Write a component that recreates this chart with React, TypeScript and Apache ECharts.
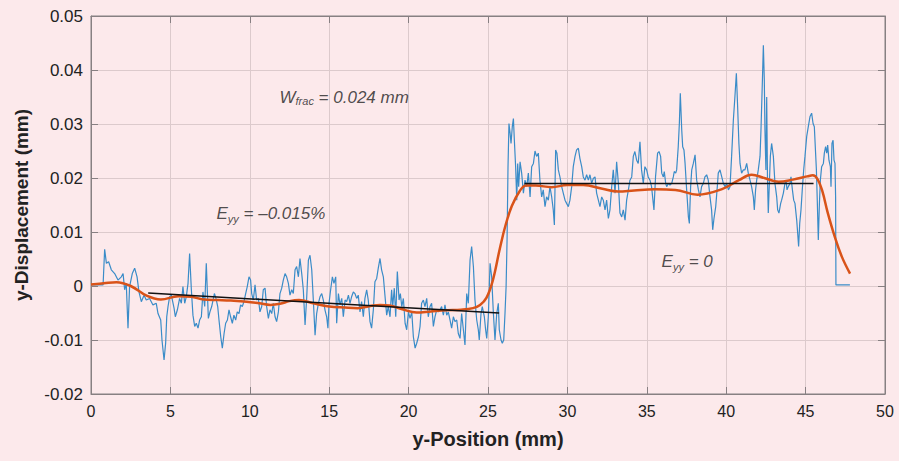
import { useEffect, useRef } from "react";
import * as echarts from "echarts";

// Raw DIC displacement profile along the specimen (y-position mm, displacement mm)
const measured: [number, number][] = [
  [0, 0.0002], [0.76, 0.0002], [0.86, 0.0068], [0.97, 0.0042], [1.11, 0.0045], [1.28, 0.003],
  [1.49, 0.0023], [1.7, 0.0011], [1.91, 0.0017], [2.02, 0.0023], [2.12, -0.0007], [2.22, 0.0005],
  [2.33, -0.0078], [2.43, -0.0001], [2.6, 0.0023], [2.75, 0.0033], [2.9, 0.0017], [3.02, -0.0011],
  [3.17, -0.0029], [3.34, -0.0017], [3.48, -0.0026], [3.69, -0.0023], [3.9, -0.0035], [4.11, -0.0032],
  [4.22, -0.0051], [4.39, -0.0063], [4.47, -0.01], [4.6, -0.0137], [4.7, -0.0106], [4.77, -0.0057],
  [4.85, -0.0038], [4.95, -0.002], [5.06, -0.0017], [5.23, -0.0041], [5.31, -0.0057], [5.44, -0.0044],
  [5.58, -0.0023], [5.69, -0.0032], [5.79, -0.0001], [5.9, -0.0032], [6.0, -0.002], [6.11, 0.0005],
  [6.21, 0.006], [6.32, -0.0007], [6.42, -0.0054], [6.53, -0.0075], [6.63, -0.0069], [6.74, -0.0078],
  [6.84, -0.0063], [6.95, -0.0057], [7.05, -0.0011], [7.16, -0.0038], [7.26, 0.0042], [7.39, -0.006],
  [7.49, -0.0048], [7.6, -0.0038], [7.77, -0.0014], [7.87, -0.0023], [7.98, -0.0038], [8.06, -0.0063],
  [8.17, -0.0094], [8.27, -0.0115], [8.38, -0.0088], [8.48, -0.0069], [8.59, -0.0063], [8.69, -0.0044],
  [8.79, -0.0057], [8.9, -0.0069], [9.0, -0.0054], [9.11, -0.0063], [9.21, -0.0048], [9.32, -0.0051],
  [9.42, -0.0035], [9.53, -0.0038], [9.63, -0.0029], [9.74, -0.0014], [9.84, -0.0001], [9.95, 0.0017],
  [10.05, 0.0011], [10.12, -0.0014], [10.22, -0.0026], [10.33, 0.0002], [10.43, -0.0026], [10.54, -0.0023],
  [10.64, -0.0048], [10.75, -0.0038], [10.85, -0.0007], [10.96, -0.0004], [11.06, -0.0038], [11.17, -0.006],
  [11.27, -0.0044], [11.38, -0.0051], [11.48, -0.0032], [11.59, -0.0057], [11.69, -0.0066], [11.8, -0.0048],
  [11.9, -0.0014], [12.01, -0.0004], [12.11, 0.0011], [12.22, 0.0023], [12.32, 0.0017], [12.43, 0.0005],
  [12.53, -0.0017], [12.64, -0.0007], [12.74, -0.0014], [12.85, 0.003], [12.95, 0.0036], [13.06, 0.0017],
  [13.16, 0.0051], [13.27, 0.0023], [13.37, -0.0007], [13.48, -0.0072], [13.58, -0.0023], [13.69, 0.0048],
  [13.79, 0.0057], [13.9, 0.003], [14.0, -0.0026], [14.11, -0.0091], [14.21, -0.0051], [14.32, -0.0032],
  [14.42, -0.002], [14.53, -0.0014], [14.63, -0.0026], [14.74, -0.0045], [14.84, -0.0057], [14.92, -0.0078],
  [14.99, -0.0032], [15.09, -0.0007], [15.2, 0.0017], [15.3, 0.0005], [15.41, 0.0017], [15.47, -0.0069],
  [15.58, -0.0014], [15.68, -0.0035], [15.79, -0.0023], [15.89, -0.0057], [16.0, -0.0026], [16.1, -0.0029],
  [16.21, -0.0017], [16.31, -0.0032], [16.41, -0.002], [16.52, -0.0011], [16.62, -0.0014], [16.73, -0.0023],
  [16.83, -0.0017], [16.94, -0.0048], [17.04, -0.0029], [17.15, -0.0057], [17.25, -0.0023], [17.36, -0.0007],
  [17.46, -0.0026], [17.57, -0.0066], [17.67, -0.0078], [17.78, -0.0044], [17.88, 0.0008], [17.99, 0.0014],
  [18.09, 0.0033], [18.2, 0.0051], [18.3, 0.003], [18.41, 0.0017], [18.51, -0.0017], [18.62, -0.0054],
  [18.72, -0.0038], [18.83, -0.0057], [18.93, -0.0007], [19.0, -0.0038], [19.1, -0.0004], [19.19, -0.0057],
  [19.29, 0.0027], [19.4, -0.0026], [19.48, -0.0014], [19.57, -0.0038], [19.67, -0.0023], [19.78, -0.0069],
  [19.88, -0.0081], [19.99, -0.0048], [20.09, -0.006], [20.2, -0.0048], [20.3, -0.0094], [20.41, -0.0115],
  [20.51, -0.0106], [20.62, -0.0094], [20.72, -0.0075], [20.82, -0.0032], [20.93, -0.0026], [21.03, -0.0038],
  [21.14, -0.0023], [21.24, -0.0057], [21.35, -0.0038], [21.45, -0.0032], [21.56, -0.0075], [21.66, -0.0057],
  [21.77, -0.0044], [21.87, -0.0048], [21.98, -0.0044], [22.08, -0.0038], [22.19, -0.0054], [22.29, -0.0035],
  [22.4, -0.0054], [22.5, -0.0048], [22.61, -0.0063], [22.71, -0.0078], [22.82, -0.0057], [22.92, -0.0066],
  [23.03, -0.0063], [23.13, -0.0088], [23.24, -0.0097], [23.34, -0.0051], [23.45, -0.0081], [23.55, -0.0109],
  [23.66, -0.0014], [23.76, -0.0032], [23.87, 0.0048], [23.97, 0.0073], [24.08, 0.0036], [24.18, -0.0026],
  [24.29, -0.0063], [24.39, -0.0081], [24.45, -0.01], [24.56, -0.0051], [24.64, -0.0038], [24.77, -0.0057],
  [24.85, -0.0081], [24.92, -0.0097], [25.02, -0.0057], [25.13, 0.0042], [25.23, 0.0017], [25.34, -0.0051],
  [25.44, -0.01], [25.55, -0.0051], [25.65, -0.0032], [25.71, -0.0081], [25.82, -0.01], [25.9, -0.0106],
  [25.99, -0.01], [26.07, -0.0051], [26.14, -0.0001], [26.2, 0.0085], [26.26, 0.0221], [26.32, 0.0301],
  [26.39, 0.0283], [26.45, 0.0264], [26.53, 0.0295], [26.6, 0.031], [26.66, 0.027], [26.74, 0.0221],
  [26.81, 0.0159], [26.87, 0.0227], [26.93, 0.0184], [27.02, 0.023], [27.12, 0.0209], [27.23, 0.0172],
  [27.33, 0.0196], [27.44, 0.0184], [27.54, 0.0209], [27.65, 0.0165], [27.75, 0.0221], [27.86, 0.0227],
  [27.96, 0.025], [28.06, 0.024], [28.17, 0.0246], [28.27, 0.0196], [28.38, 0.0165], [28.48, 0.0178],
  [28.59, 0.0147], [28.69, 0.0165], [28.8, 0.0159], [28.9, 0.0184], [29.01, 0.0165], [29.11, 0.0141],
  [29.18, 0.0113], [29.26, 0.0252], [29.34, 0.0246], [29.43, 0.0215], [29.53, 0.0202], [29.64, 0.0184],
  [29.74, 0.0172], [29.85, 0.0159], [29.95, 0.0153], [30.06, 0.0147], [30.16, 0.0159], [30.27, 0.0184],
  [30.37, 0.0221], [30.48, 0.024], [30.58, 0.0252], [30.69, 0.0255], [30.79, 0.0236], [30.9, 0.0221],
  [31.0, 0.0202], [31.11, 0.0196], [31.21, 0.0206], [31.32, 0.0196], [31.42, 0.0206], [31.53, 0.019],
  [31.63, 0.0199], [31.74, 0.0202], [31.84, 0.0172], [31.95, 0.0159], [32.05, 0.0147], [32.16, 0.0165],
  [32.26, 0.0159], [32.37, 0.0141], [32.47, 0.0159], [32.58, 0.0125], [32.68, 0.0141], [32.79, 0.0184],
  [32.89, 0.0215], [33.0, 0.0172], [33.1, 0.023], [33.21, 0.019], [33.31, 0.0135], [33.42, 0.0128],
  [33.52, 0.0141], [33.63, 0.0122], [33.73, 0.0159], [33.84, 0.0178], [33.94, 0.0196], [34.05, 0.0202],
  [34.15, 0.024], [34.25, 0.0249], [34.36, 0.0233], [34.46, 0.0227], [34.57, 0.0267], [34.67, 0.0215],
  [34.78, 0.019], [34.88, 0.0221], [34.99, 0.0215], [35.09, 0.0202], [35.2, 0.0196], [35.3, 0.0184],
  [35.45, 0.0141], [35.55, 0.0202], [35.68, 0.0246], [35.77, 0.0249], [35.87, 0.024], [35.94, 0.0209],
  [36.04, 0.0202], [36.1, 0.0212], [36.19, 0.019], [36.25, 0.0184], [36.36, 0.019], [36.46, 0.0187],
  [36.57, 0.019], [36.67, 0.0202], [36.73, 0.0212], [36.82, 0.0209], [36.88, 0.0215], [36.98, 0.0258],
  [37.05, 0.0301], [37.11, 0.0357], [37.2, 0.0289], [37.26, 0.0258], [37.34, 0.0252], [37.41, 0.0227],
  [37.51, 0.0178], [37.62, 0.0128], [37.68, 0.0116], [37.76, 0.0184], [37.83, 0.0215], [37.93, 0.0227],
  [38.04, 0.0243], [38.14, 0.0196], [38.25, 0.0178], [38.35, 0.0165], [38.45, 0.0184], [38.56, 0.019],
  [38.66, 0.0202], [38.77, 0.0206], [38.87, 0.0196], [38.98, 0.0165], [39.08, 0.0141], [39.15, 0.0104],
  [39.23, 0.0125], [39.34, 0.0147], [39.44, 0.0184], [39.5, 0.0209], [39.61, 0.0215], [39.72, 0.0202],
  [39.82, 0.019], [39.93, 0.0184], [40.03, 0.019], [40.14, 0.0178], [40.24, 0.0184], [40.34, 0.024],
  [40.45, 0.0307], [40.55, 0.0351], [40.64, 0.0394], [40.72, 0.0332], [40.8, 0.0264], [40.87, 0.0227],
  [40.97, 0.0209], [41.08, 0.0215], [41.18, 0.0215], [41.29, 0.0227], [41.39, 0.0209], [41.5, 0.0196],
  [41.6, 0.0184], [41.71, 0.0165], [41.77, 0.0141], [41.85, 0.0178], [41.92, 0.0196], [42.02, 0.0215],
  [42.13, 0.024], [42.19, 0.0289], [42.28, 0.0381], [42.34, 0.0446], [42.4, 0.0381], [42.44, 0.0289],
  [42.5, 0.0215], [42.55, 0.035], [42.6, 0.02], [42.65, 0.0135], [42.71, 0.0184], [42.78, 0.024],
  [42.86, 0.0264], [42.97, 0.024], [43.07, 0.019], [43.18, 0.0165], [43.24, 0.0141], [43.32, 0.0135],
  [43.43, 0.0153], [43.49, 0.0159], [43.6, 0.0172], [43.7, 0.019], [43.77, 0.0196], [43.83, 0.0178],
  [43.91, 0.0184], [44.02, 0.019], [44.08, 0.0202], [44.17, 0.0178], [44.25, 0.0159], [44.33, 0.0153],
  [44.44, 0.0122], [44.5, 0.0098], [44.56, 0.0073], [44.63, 0.0116], [44.71, 0.0141], [44.79, 0.0178],
  [44.88, 0.0215], [44.96, 0.024], [45.07, 0.0277], [45.17, 0.0295], [45.28, 0.0314], [45.38, 0.032],
  [45.47, 0.0301], [45.55, 0.0295], [45.61, 0.0258], [45.68, 0.0215], [45.74, 0.0153], [45.8, 0.0085],
  [45.87, 0.0153], [45.93, 0.0196], [46.01, 0.0221], [46.12, 0.0227], [46.18, 0.0246], [46.26, 0.0258],
  [46.33, 0.0246], [46.39, 0.0261], [46.47, 0.0233], [46.56, 0.0221], [46.6, 0.0184], [46.66, 0.0264],
  [46.73, 0.027], [46.79, 0.0233], [46.85, 0.0227], [46.89, 0.0165], [46.91, 0.0002], [47.79, 0.0002],
];

// Smoothed displacement profile
const smoothed: [number, number][] = [
  [0, 0.0003], [0.8, 0.0005], [1.6, 0.0007], [2.5, 0.0], [3.5, -0.0018], [4.4, -0.0025],
  [5.5, -0.0019], [6.3, -0.002], [7.1, -0.0025], [8.0, -0.0026], [8.8, -0.0027], [9.8, -0.0029],
  [10.6, -0.0032], [11.3, -0.0035], [11.9, -0.0033], [12.5, -0.0028], [13.1, -0.0026], [14.0, -0.0032],
  [15.0, -0.0038], [16.0, -0.004], [16.8, -0.0041], [17.6, -0.0037], [18.2, -0.0035], [18.8, -0.0036],
  [19.6, -0.0043], [20.5, -0.0049], [21.4, -0.0047], [22.4, -0.0045], [23.3, -0.0044], [24.05, -0.0041],
  [24.5, -0.0035], [24.9, -0.0022], [25.3, 0.001], [25.75, 0.007], [26.1, 0.0112], [26.5, 0.0148],
  [27.0, 0.0176], [27.4, 0.0186], [28.0, 0.0186], [29.0, 0.0183], [30.0, 0.0187], [31.0, 0.0187],
  [32.2, 0.018], [33.2, 0.0175], [34.2, 0.0177], [35.5, 0.0179], [36.8, 0.0178], [38.2, 0.0169],
  [39.7, 0.0179], [40.8, 0.0196], [41.6, 0.0206], [42.4, 0.02], [43.3, 0.0193], [44.2, 0.0197],
  [45.1, 0.0203], [45.45, 0.0205], [45.75, 0.0198], [46.05, 0.0176], [46.4, 0.0135], [46.85, 0.009],
  [47.3, 0.0053], [47.8, 0.0023],
];

// Linear fits on either side of the crack
const fitLeft: [number, number][] = [[3.6, -0.0013], [25.7, -0.005]];
const fitRight: [number, number][] = [[27.3, 0.019], [45.5, 0.019]];

// Axis limits and tick spacing
const xAxisRange = [0, 50, 5];
const yAxisRange = [-0.02, 0.05, 0.01];

// Annotations: [x, y, rich text]
const notes: [number, number, string][] = [
  [11.84, 0.035, "{b|W}{s|frac}{b| = 0.024 mm}"],
  [7.87, 0.0135, "{b|E}{y|yy}{b| = –0.015%}"],
  [35.9, 0.0046, "{b|E}{y|yy}{b| = 0}"],
];

const BG = "#fce9eb";
const INK = "#222222";
const FONT = "'Liberation Sans', Arial, Helvetica, sans-serif";
const GRID_LINE = "#dccacc";
const FRAME = "#878082";

export default function App() {
  const ref = useRef<HTMLDivElement>(null);

  useEffect(() => {
    if (!ref.current) return;
    const chart = echarts.init(ref.current, undefined, { renderer: "svg" });

    const fmtY = (v: number) => (Math.abs(v) < 1e-9 ? "0" : v.toFixed(2));
    const tickStyle = { inside: true, length: 7, lineStyle: { color: FRAME, width: 1 } };
    const frameLine = { show: true, onZero: false, lineStyle: { color: FRAME, width: 1 } };

    chart.setOption({
      animation: false,
      backgroundColor: BG,
      textStyle: { fontFamily: FONT },
      grid: {
        left: 91,
        right: 14,
        top: 16,
        bottom: 67,
        show: true,
        backgroundColor: BG,
        borderColor: FRAME,
        borderWidth: 1,
      },
      xAxis: [
        {
          type: "value",
          min: xAxisRange[0],
          max: xAxisRange[1],
          interval: xAxisRange[2],
          position: "bottom",
          name: "y-Position (mm)",
          nameLocation: "middle",
          nameGap: 35,
          nameTextStyle: { fontSize: 20, fontWeight: "bold", color: INK, fontFamily: FONT },
          axisLine: frameLine,
          axisTick: tickStyle,
          axisLabel: { fontSize: 16, color: INK, margin: 9, fontFamily: FONT },
          splitLine: { show: true, lineStyle: { color: GRID_LINE, width: 1 } },
        },
        {
          type: "value",
          min: xAxisRange[0],
          max: xAxisRange[1],
          interval: xAxisRange[2],
          position: "top",
          axisLine: frameLine,
          axisTick: tickStyle,
          axisLabel: { show: false },
          splitLine: { show: false },
        },
      ],
      yAxis: [
        {
          type: "value",
          min: yAxisRange[0],
          max: yAxisRange[1],
          interval: yAxisRange[2],
          position: "left",
          name: "y-Displacement (mm)",
          nameLocation: "middle",
          nameGap: 60,
          nameTextStyle: { fontSize: 19, fontWeight: "bold", color: INK, fontFamily: FONT },
          axisLine: frameLine,
          axisTick: tickStyle,
          axisLabel: { fontSize: 17, color: INK, margin: 8, formatter: fmtY, fontFamily: FONT },
          splitLine: { show: true, lineStyle: { color: GRID_LINE, width: 1 } },
        },
        {
          type: "value",
          min: yAxisRange[0],
          max: yAxisRange[1],
          interval: yAxisRange[2],
          position: "right",
          axisLine: frameLine,
          axisTick: tickStyle,
          axisLabel: { show: false },
          splitLine: { show: false },
        },
      ],
      series: [
        {
          name: "measured",
          type: "line",
          data: measured,
          showSymbol: false,
          symbol: "none",
          lineStyle: { color: "#3a8cc8", width: 1.2 },
          z: 2,
        },
        {
          name: "smoothed",
          type: "line",
          data: smoothed,
          smooth: 0.4,
          showSymbol: false,
          symbol: "none",
          lineStyle: { color: "#d95319", width: 2.5 },
          z: 3,
        },
        {
          name: "fitLeft",
          type: "line",
          data: fitLeft,
          showSymbol: false,
          symbol: "none",
          lineStyle: { color: "#111111", width: 1.5 },
          z: 4,
        },
        {
          name: "fitRight",
          type: "line",
          data: fitRight,
          showSymbol: false,
          symbol: "none",
          lineStyle: { color: "#111111", width: 1.5 },
          z: 4,
        },
        {
          name: "notes",
          type: "scatter",
          symbolSize: 1,
          itemStyle: { color: "rgba(0,0,0,0)" },
          silent: true,
          z: 5,
          data: notes.map(([x, y, txt]) => ({
            value: [x, y],
            label: {
              show: true,
              position: "right",
              distance: 0,
              formatter: txt,
              rich: {
                b: { fontSize: 17, fontStyle: "italic", color: INK, fontFamily: FONT },
                s: { fontSize: 11, fontStyle: "italic", color: INK, fontFamily: FONT, padding: [8, 0, 0, 0] },
                y: { fontSize: 11, fontStyle: "italic", color: INK, fontFamily: FONT, padding: [12, 0, 0, 0] },
              },
            },
          })),
        },
      ],
    });

    return () => chart.dispose();
  }, []);

  return (
    <div
      ref={ref}
      style={{ position: "absolute", left: 0, top: 0, width: 899, height: 461 }}
    />
  );
}
